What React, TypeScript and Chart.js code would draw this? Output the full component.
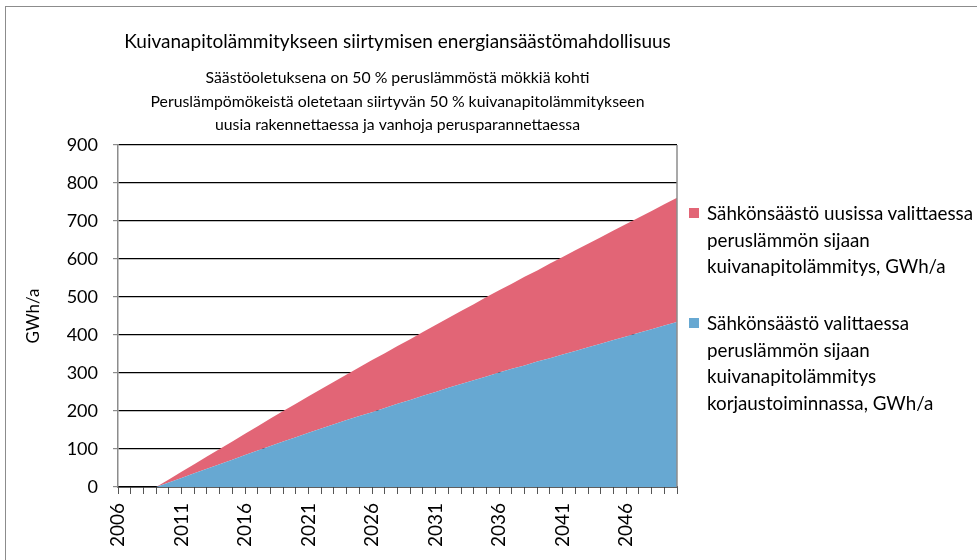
import React, { useEffect, useRef } from "react";
import { Chart, registerables } from "chart.js";

Chart.register(...registerables);

const years: string[] = [
  "2006","2007","2008","2009","2010","2011","2012","2013","2014","2015",
  "2016","2017","2018","2019","2020","2021","2022","2023","2024","2025",
  "2026","2027","2028","2029","2030","2031","2032","2033","2034","2035",
  "2036","2037","2038","2039","2040","2041","2042","2043","2044","2045",
  "2046","2047","2048","2049","2050",
];

// Sähkönsäästö valittaessa ... korjaustoiminnassa (blue, bottom)
const repairSavings: number[] = [
  0, 0, 0, 0, 12, 24, 36, 48, 60, 72,
  84, 96, 108, 120, 131, 143, 154, 165, 176, 187,
  197, 208, 219, 229, 240, 250, 261, 271, 281, 291,
  301, 311, 320, 330, 339, 349, 358, 368, 377, 387,
  396, 406, 415, 425, 434,
];

// Sähkönsäästö uusissa ... (red, stacked on top)
const newBuildSavings: number[] = [
  0, 0, 0, 0, 8, 16, 24, 32, 40, 48,
  56, 64, 72, 80, 88, 96, 104, 112, 120, 128,
  137, 144, 152, 160, 168, 176, 184, 192, 200, 209,
  217, 224, 233, 240, 249, 256, 265, 272, 280, 288,
  296, 303, 311, 319, 327,
];

const titleText = "Kuivanapitolämmitykseen siirtymisen energiansäästömahdollisuus";
const subtitleLines: string[] = [
  "Säästöoletuksena on 50 % peruslämmöstä mökkiä kohti",
  "Peruslämpömökeistä oletetaan siirtyvän 50 % kuivanapitolämmitykseen",
  "uusia rakennettaessa ja vanhoja perusparannettaessa",
];
const legendRed: string[] = [
  "Sähkönsäästö uusissa valittaessa",
  "peruslämmön sijaan",
  "kuivanapitolämmitys, GWh/a",
];
const legendBlue: string[] = [
  "Sähkönsäästö valittaessa",
  "peruslämmön sijaan",
  "kuivanapitolämmitys",
  "korjaustoiminnassa, GWh/a",
];

const RED = "#E26576";
const BLUE = "#67A8D2";
const FONT = "Lato, 'Open Sans', sans-serif";

const textPlugin = {
  id: "customTexts",
  afterDraw(chart: any) {
    const { ctx, chartArea } = chart;
    const cx = (chartArea.left + chartArea.right) / 2;
    ctx.save();
    ctx.fillStyle = "#000";
    ctx.textAlign = "center";
    ctx.textBaseline = "middle";
    ctx.font = `19px ${FONT}`;
    ctx.fillText(titleText, cx, 42);
    ctx.font = `15.8px ${FONT}`;
    const ys = [78, 102, 125];
    subtitleLines.forEach((l, i) => ctx.fillText(l, cx, ys[i]));
    // right border of plot area
    ctx.strokeStyle = "#8c8c8c";
    ctx.lineWidth = 1.5;
    ctx.beginPath();
    ctx.moveTo(chartArea.right, chartArea.top);
    ctx.lineTo(chartArea.right, chartArea.bottom);
    ctx.stroke();
    ctx.restore();
  },
};

export default function App() {
  const ref = useRef<HTMLCanvasElement | null>(null);

  useEffect(() => {
    if (!ref.current) return;
    const chart = new Chart(ref.current, {
      type: "line",
      data: {
        labels: years,
        datasets: [
          {
            label: legendBlue.join(" "),
            data: repairSavings,
            backgroundColor: BLUE,
            borderColor: BLUE,
            borderWidth: 0,
            pointRadius: 0,
            fill: "origin",
            tension: 0,
          },
          {
            label: legendRed.join(" "),
            data: newBuildSavings,
            backgroundColor: RED,
            borderColor: RED,
            borderWidth: 0,
            pointRadius: 0,
            fill: "-1",
            tension: 0,
          },
        ],
      },
      options: {
        animation: false,
        responsive: false,
        maintainAspectRatio: false,
        layout: { padding: { left: 8, top: 145, right: 300, bottom: 0 } },
        plugins: {
          legend: { display: false },
          title: { display: false },
          tooltip: { enabled: false },
        },
        scales: {
          x: {
            offset: false,
            afterFit: (scale: any) => {
              scale.height = 73;
            },
            grid: {
              display: true,
              drawOnChartArea: false,
              drawTicks: true,
              tickLength: 7,
              color: "#555",
              tickColor: "#555",
            },
            border: { display: true, color: "#000", width: 1.5 },
            ticks: {
              autoSkip: false,
              maxRotation: 90,
              minRotation: 90,
              padding: 9,
              color: "#000",
              font: { family: FONT, size: 19 },
              callback: (_v: any, i: number) => (i % 5 === 0 ? years[i] : ""),
            },
          },
          y: {
            stacked: true,
            min: 0,
            max: 900,
            afterFit: (scale: any) => {
              scale.width = 110;
            },
            grid: {
              color: "#000",
              lineWidth: 1.2,
              tickLength: 5,
              tickColor: "#8c8c8c",
            },
            border: { display: true, color: "#8c8c8c", width: 1.5 },
            ticks: {
              stepSize: 100,
              padding: 15,
              color: "#000",
              font: { family: FONT, size: 18 },
            },
            title: {
              display: true,
              text: "GWh/a",
              color: "#000",
              font: { family: FONT, size: 17 },
              padding: { top: 15, bottom: 0 },
            },
          },
        },
      },
      plugins: [textPlugin],
    });
    return () => chart.destroy();
  }, []);

  const legendText: React.CSSProperties = {
    position: "absolute",
    left: 707,
    fontFamily: FONT,
    fontSize: 18.8,
    lineHeight: "26.5px",
    color: "#000",
    whiteSpace: "nowrap",
  };

  return (
    <div style={{ position: "fixed", left: 0, top: 0, width: 977, height: 560, background: "#fff", overflow: "hidden" }}>
      <div style={{ position: "absolute", left: 5, top: 6, width: 1000, height: 600, borderLeft: "1.5px solid #8c8c8c", borderTop: "1.5px solid #8c8c8c" }} />
      <canvas ref={ref} width={977} height={560} style={{ position: "absolute", left: 0, top: 0, width: 977, height: 560 }} />
      <div style={{ position: "absolute", left: 689, top: 208, width: 10, height: 10, background: RED }} />
      <div style={{ ...legendText, top: 200 }}>
        {legendRed.map((l, i) => (
          <div key={i}>{l}</div>
        ))}
      </div>
      <div style={{ position: "absolute", left: 689, top: 318, width: 10, height: 10, background: BLUE }} />
      <div style={{ ...legendText, top: 310 }}>
        {legendBlue.map((l, i) => (
          <div key={i}>{l}</div>
        ))}
      </div>
    </div>
  );
}
